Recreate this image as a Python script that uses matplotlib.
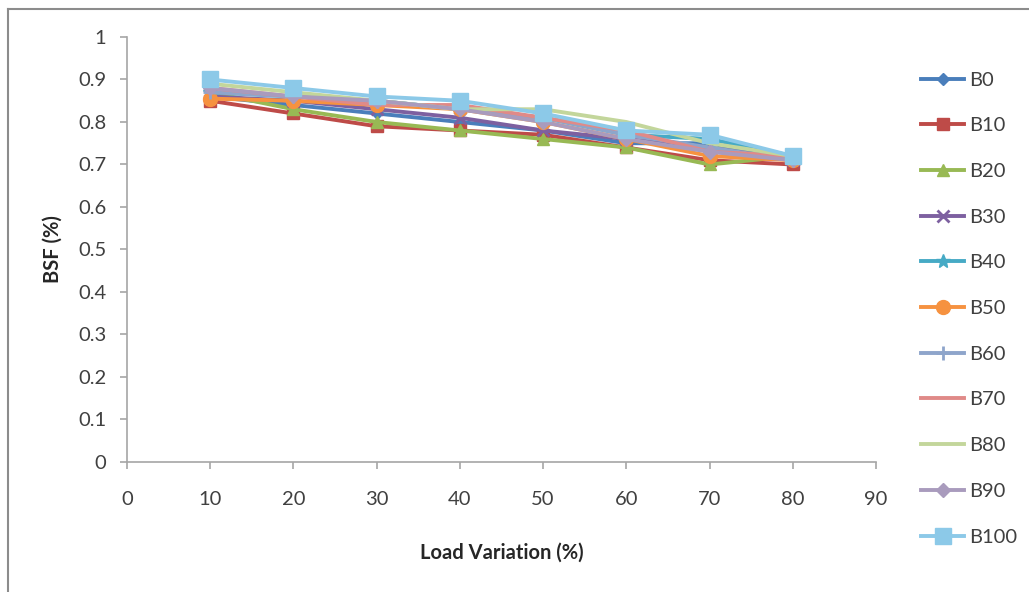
import matplotlib
matplotlib.use("Agg")
import matplotlib.pyplot as plt
from matplotlib.lines import Line2D

plt.rcParams['font.family'] = ['Lato', 'DejaVu Sans']

load = [10, 20, 30, 40, 50, 60, 70, 80]
series_names = ["B0", "B10", "B20", "B30", "B40", "B50", "B60", "B70", "B80", "B90", "B100"]
b0 = [0.86, 0.84, 0.82, 0.80, 0.78, 0.75, 0.75, 0.71]
b10 = [0.85, 0.82, 0.79, 0.78, 0.77, 0.74, 0.71, 0.70]
b20 = [0.87, 0.83, 0.80, 0.78, 0.76, 0.74, 0.70, 0.72]
b30 = [0.86, 0.85, 0.83, 0.81, 0.78, 0.76, 0.74, 0.71]
b40 = [0.87, 0.86, 0.85, 0.83, 0.81, 0.77, 0.76, 0.72]
b50 = [0.855, 0.85, 0.84, 0.83, 0.80, 0.76, 0.72, 0.71]
b60 = [0.87, 0.86, 0.85, 0.83, 0.81, 0.77, 0.74, 0.71]
b70 = [0.88, 0.86, 0.84, 0.84, 0.81, 0.78, 0.73, 0.72]
b80 = [0.89, 0.87, 0.85, 0.83, 0.83, 0.80, 0.75, 0.72]
b90 = [0.88, 0.86, 0.85, 0.83, 0.80, 0.76, 0.73, 0.71]
b100 = [0.90, 0.88, 0.86, 0.85, 0.82, 0.78, 0.77, 0.72]

values = [b0, b10, b20, b30, b40, b50, b60, b70, b80, b90, b100]
colors = ["#4A7EBB", "#BE4B48", "#98B954", "#7D60A0", "#46AAC5", "#F69240",
          "#8EA5CB", "#E08A88", "#C3D69B", "#A99BBD", "#8CC9E8"]
markers = ["D", "s", "^", "x", "*", "o", "+", None, None, "D", "s"]
msizes = [6, 9, 9, 9, 10, 10, 10, 0, 0, 7, 12]

fig = plt.figure(figsize=(10.29, 5.92), dpi=100)
ax = fig.add_axes([0.1234, 0.2196, 0.8513 - 0.1234, 0.9375 - 0.2196])

for name, vals, c, m, ms in zip(series_names, values, colors, markers, msizes):
    ax.plot(load, vals, color=c, lw=2.8, marker=m, markersize=ms,
            markeredgewidth=2 if m in ("x", "+") else 1, markeredgecolor=c,
            label=name, solid_joinstyle="round")

ax.set_xlim(0, 90)
ax.set_ylim(0, 1)
ax.set_xticks(range(0, 91, 10))
ax.set_yticks([i / 10 for i in range(11)])
ax.set_yticklabels(["0", "0.1", "0.2", "0.3", "0.4", "0.5", "0.6", "0.7", "0.8", "0.9", "1"])
for s in ("top", "right"):
    ax.spines[s].set_visible(False)
for s in ("left", "bottom"):
    ax.spines[s].set_color("#A6A6A6")
    ax.spines[s].set_linewidth(1.2)
ax.tick_params(axis="both", colors="#A6A6A6", labelcolor="#404040", labelsize=14.5,
               length=5, width=1.2)
ax.tick_params(axis="x", pad=16)
ax.tick_params(axis="y", pad=10)

ax.set_xlabel("Load Variation (%)", fontsize=14.5, fontweight="bold", color="#262626", labelpad=25)
ax.set_ylabel("BSF (%)", fontsize=14.5, fontweight="bold", color="#262626", labelpad=11)

leg = fig.legend(loc="upper left", bbox_to_anchor=(0.8915, 0.886), frameon=False,
                 fontsize=14.5, handlelength=2.1, labelspacing=1.42, handletextpad=0.25,
                 labelcolor="#404040", borderaxespad=0, borderpad=0.2)

# chart frame
fig.add_artist(Line2D([8 / 1029, 8 / 1029], [0, 1 - 9 / 592], transform=fig.transFigure,
                      color="#8C8C8C", lw=1.5))
fig.add_artist(Line2D([8 / 1029, 1], [1 - 9 / 592, 1 - 9 / 592], transform=fig.transFigure,
                      color="#8C8C8C", lw=1.5))

fig.savefig("out.png", dpi=100)
